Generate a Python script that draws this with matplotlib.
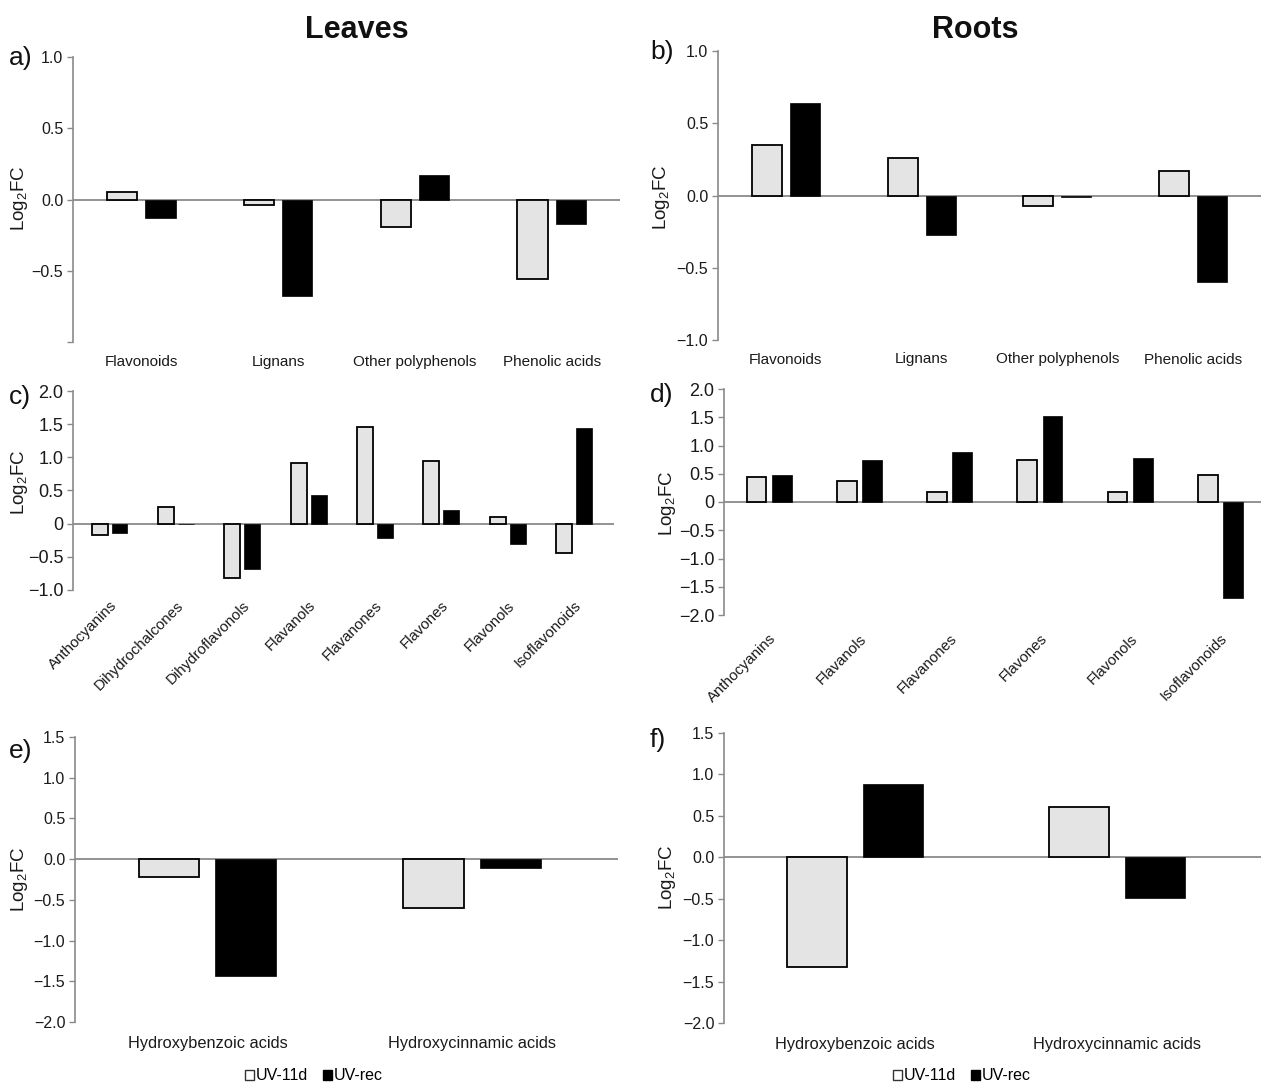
import matplotlib
matplotlib.use("Agg")
import matplotlib.pyplot as plt
import numpy as np
from matplotlib.patches import Patch

plt.rcParams['font.family'] = ['Liberation Sans', 'DejaVu Sans']
plt.rcParams['mathtext.fontset'] = 'custom'
plt.rcParams['mathtext.rm'] = 'Liberation Sans'
plt.rcParams['axes.unicode_minus'] = True

# ---- data ----
cat_ab = ["Flavonoids", "Lignans", "Other polyphenols", "Phenolic acids"]
a_uv11d = [0.05, -0.04, -0.19, -0.56]
a_uvrec = [-0.13, -0.68, 0.17, -0.17]
b_uv11d = [0.35, 0.26, -0.07, 0.17]
b_uvrec = [0.64, -0.27, -0.01, -0.60]

cat_c = ["Anthocyanins", "Dihydrochalcones", "Dihydroflavonols", "Flavanols",
         "Flavanones", "Flavones", "Flavonols", "Isoflavonoids"]
c_uv11d = [-0.165, 0.255, -0.82, 0.91, 1.46, 0.94, 0.105, -0.44]
c_uvrec = [-0.135, 0.0, -0.68, 0.43, -0.21, 0.21, -0.30, 1.44]

cat_d = ["Anthocyanins", "Flavanols", "Flavanones", "Flavones", "Flavonols", "Isoflavonoids"]
d_uv11d = [0.45, 0.38, 0.17, 0.74, 0.17, 0.47]
d_uvrec = [0.48, 0.75, 0.89, 1.52, 0.77, -1.70]

cat_ef = ["Hydroxybenzoic acids", "Hydroxycinnamic acids"]
e_uv11d = [-0.225, -0.595]
e_uvrec = [-1.43, -0.11]
f_uv11d = [-1.32, 0.61]
f_uvrec = [0.88, -0.49]

series_names = ["UV-11d", "UV-rec"]

yt_ab_a = [-1.0, -0.5, 0.0, 0.5, 1.0]
ytl_a = ["", "\u22120.5", "0.0", "0.5", "1.0"]
ytl_b = ["\u22121.0", "\u22120.5", "0.0", "0.5", "1.0"]
yt_c = [-1.0, -0.5, 0.0, 0.5, 1.0, 1.5, 2.0]
ytl_c = ["\u22121.0", "\u22120.5", "0", "0.5", "1.0", "1.5", "2.0"]
yt_d = [-2.0, -1.5, -1.0, -0.5, 0.0, 0.5, 1.0, 1.5, 2.0]
ytl_d = ["\u22122.0", "\u22121.5", "\u22121.0", "\u22120.5", "0", "0.5", "1.0", "1.5", "2.0"]
yt_ef = [-2.0, -1.5, -1.0, -0.5, 0.0, 0.5, 1.0, 1.5]
ytl_ef = ["\u22122.0", "\u22121.5", "\u22121.0", "\u22120.5", "0.0", "0.5", "1.0", "1.5"]

W, H = 1261, 1084
fig = plt.figure(figsize=(W / 100, H / 100), dpi=100)
fig.patch.set_facecolor('white')

LIGHT = '#e4e4e4'
GRAY = '#8a8a8a'
TXT = '#1a1a1a'


def add_ax(L, R, T, B):
    return fig.add_axes([L / W, 1 - B / H, (R - L) / W, (B - T) / H])


def panel(ax, cats, v1, v2, ylim, yt, ytl, xlim, width, off, ytick_fs, xfs,
          rot=0, xpad=8):
    x = np.arange(len(cats))
    ax.axhline(0, color=GRAY, lw=1.3, zorder=1)
    ax.bar(x - off, v1, width, color=LIGHT, edgecolor='black', linewidth=1.3, zorder=3)
    ax.bar(x + off, v2, width, color='black', edgecolor='black', linewidth=0.5, zorder=3)
    ax.set_ylim(*ylim)
    ax.set_xlim(*xlim)
    ax.set_yticks(yt)
    ax.set_yticklabels(ytl, fontsize=ytick_fs, color=TXT)
    ax.set_xticks(x)
    if rot:
        ax.set_xticklabels(cats, fontsize=xfs, rotation=rot, ha='right',
                           rotation_mode='anchor', color=TXT)
    else:
        ax.set_xticklabels(cats, fontsize=xfs, color=TXT)
    ax.tick_params(axis='x', length=0, pad=xpad)
    ax.tick_params(axis='y', length=4, color=GRAY, width=1, pad=3)
    for s in ['top', 'right', 'bottom']:
        ax.spines[s].set_visible(False)
    ax.spines['left'].set_color(GRAY)
    ax.spines['left'].set_linewidth(1.2)
    ax.patch.set_alpha(0)


axa = add_ax(73, 620, 57, 342)
panel(axa, cat_ab, a_uv11d, a_uvrec, (-1.0, 1.0), yt_ab_a, ytl_a, (-0.5, 3.5),
      0.22, 0.14, 11.5, 11, xpad=9)
axb = add_ax(718, 1261, 51, 340)
panel(axb, cat_ab, b_uv11d, b_uvrec, (-1.0, 1.0), yt_ab_a, ytl_b, (-0.5, 3.5),
      0.22, 0.14, 11.5, 11, xpad=9)
axc = add_ax(73, 614, 391, 590)
panel(axc, cat_c, c_uv11d, c_uvrec, (-1.0, 2.0), yt_c, ytl_c, (-0.55, 7.6),
      0.24, 0.15, 13, 10.8, rot=45, xpad=6)
axd = add_ax(724, 1261, 389, 615)
panel(axd, cat_d, d_uv11d, d_uvrec, (-2.0, 2.0), yt_d, ytl_d, (-0.5, 5.45),
      0.22, 0.14, 13, 10.8, rot=45, xpad=12)
axe = add_ax(75, 618, 737, 1022)
panel(axe, cat_ef, e_uv11d, e_uvrec, (-2.0, 1.5), yt_ef, ytl_ef, (-0.5, 1.55),
      0.23, 0.145, 11.5, 11.8, xpad=10)
axf = add_ax(724, 1261, 733, 1023)
panel(axf, cat_ef, f_uv11d, f_uvrec, (-2.0, 1.5), yt_ef, ytl_ef, (-0.5, 1.55),
      0.23, 0.145, 11.5, 11.8, xpad=10)

# y labels
for (xp, yp) in [(20, 198), (662, 197), (20, 482), (668, 503), (20, 879), (667, 877)]:
    fig.text(xp / W, 1 - yp / H, r'Log$_\mathregular{2}$FC', rotation=90,
             ha='center', va='center', fontsize=13.5, color=TXT)

# panel letters
for (lab, xp, yp) in [("a)", 9, 58), ("b)", 650, 52), ("c)", 9, 397),
                      ("d)", 650, 395), ("e)", 9, 751), ("f)", 650, 740)]:
    fig.text(xp / W, 1 - yp / H, lab, ha='left', va='center', fontsize=19, color='#111111')

# column titles
fig.text(357 / W, 1 - 30 / H, "Leaves", ha='center', va='center', fontsize=22,
         fontweight='bold', color='#111111')
fig.text(975 / W, 1 - 30 / H, "Roots", ha='center', va='center', fontsize=22,
         fontweight='bold', color='#111111')

# legends
handles = [Patch(facecolor='white', edgecolor='#333333', linewidth=1.0),
           Patch(facecolor='black', edgecolor='black')]
for xc in (314, 962):
    fig.legend(handles, series_names, loc='center', bbox_to_anchor=(xc / W, 1 - 1076 / H),
               ncol=2, frameon=False, fontsize=11.5, handlelength=0.55, handleheight=0.55,
               handletextpad=0.15, columnspacing=0.9, borderaxespad=0)

fig.savefig("out.png", dpi=100)
